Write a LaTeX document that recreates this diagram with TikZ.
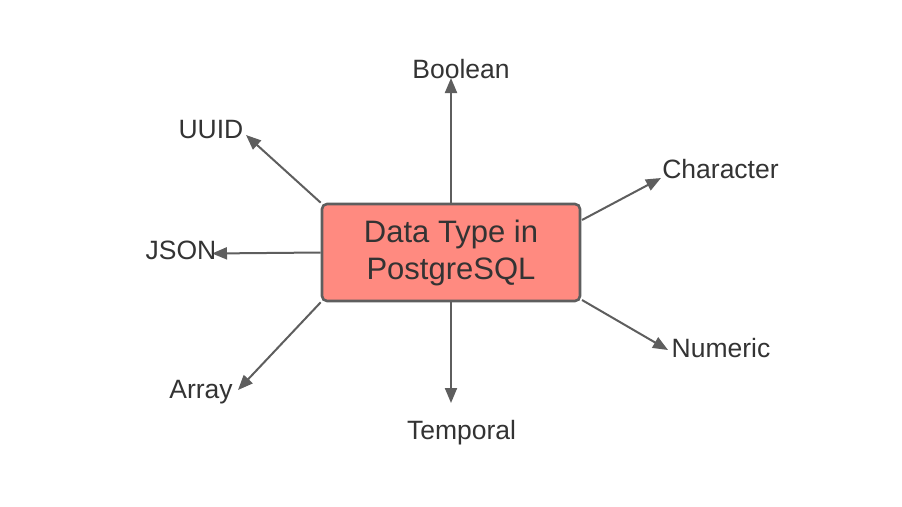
\documentclass[tikz,border=0pt]{standalone}
\usepackage{fontspec}
\setmainfont{Liberation Sans}
\usetikzlibrary{arrows.meta,backgrounds}
\definecolor{boxfill}{HTML}{FF8A80}
\definecolor{linegray}{HTML}{5E5E5E}
\definecolor{textgray}{HTML}{333333}
\tikzset{
  mainbox/.style={draw=linegray, line width=2.6pt, fill=boxfill, rounded corners=5pt,
    minimum width=258pt, minimum height=97pt, inner sep=0pt, align=center,
    text=textgray, font=\fontsize{31}{37}\selectfont},
  lbl/.style={text=textgray, font=\fontsize{26.5}{30}\selectfont, inner sep=0pt, anchor=base},
  conn/.style={draw=linegray, line width=2pt, -{Triangle[length=15pt,width=12pt]}}
}
\begin{document}
\begin{tikzpicture}[x=1pt,y=-1pt]
\useasboundingbox (0,0) rectangle (902,506);
\node[mainbox] (box) at (451,252.5) {Data Type in\\PostgreSQL};
\node[lbl] (boolean) at (461,78) {Boolean};
\node[lbl] (uuid) at (211,138) {UUID};
\node[lbl] (json) at (181,259) {JSON};
\node[lbl] (character) at (720.5,178) {Character};
\node[lbl] (numeric) at (721,357) {Numeric};
\node[lbl] (array) at (201,398) {Array};
\node[lbl] (temporal) at (461.5,439) {Temporal};
\coordinate (tboolean) at (451,78);
\coordinate (tuuid) at (246,135);
\coordinate (tjson) at (212,253.5);
\coordinate (tcharacter) at (661,178);
\coordinate (tnumeric) at (668,350);
\coordinate (tarray) at (238,390);
\coordinate (ttemporal) at (451,403);
\coordinate (scharacter) at (582,220);
\coordinate (snumeric) at (582,300);
\begin{scope}[on background layer]
\draw[conn] (box.north) -- (tboolean);
\draw[conn] (box.north west) -- (tuuid);
\draw[conn] (box.west) -- (tjson);
\draw[conn] (scharacter) -- (tcharacter);
\draw[conn] (snumeric) -- (tnumeric);
\draw[conn] (box.south west) -- (tarray);
\draw[conn] (box.south) -- (ttemporal);
\end{scope}
\end{tikzpicture}
\end{document}
